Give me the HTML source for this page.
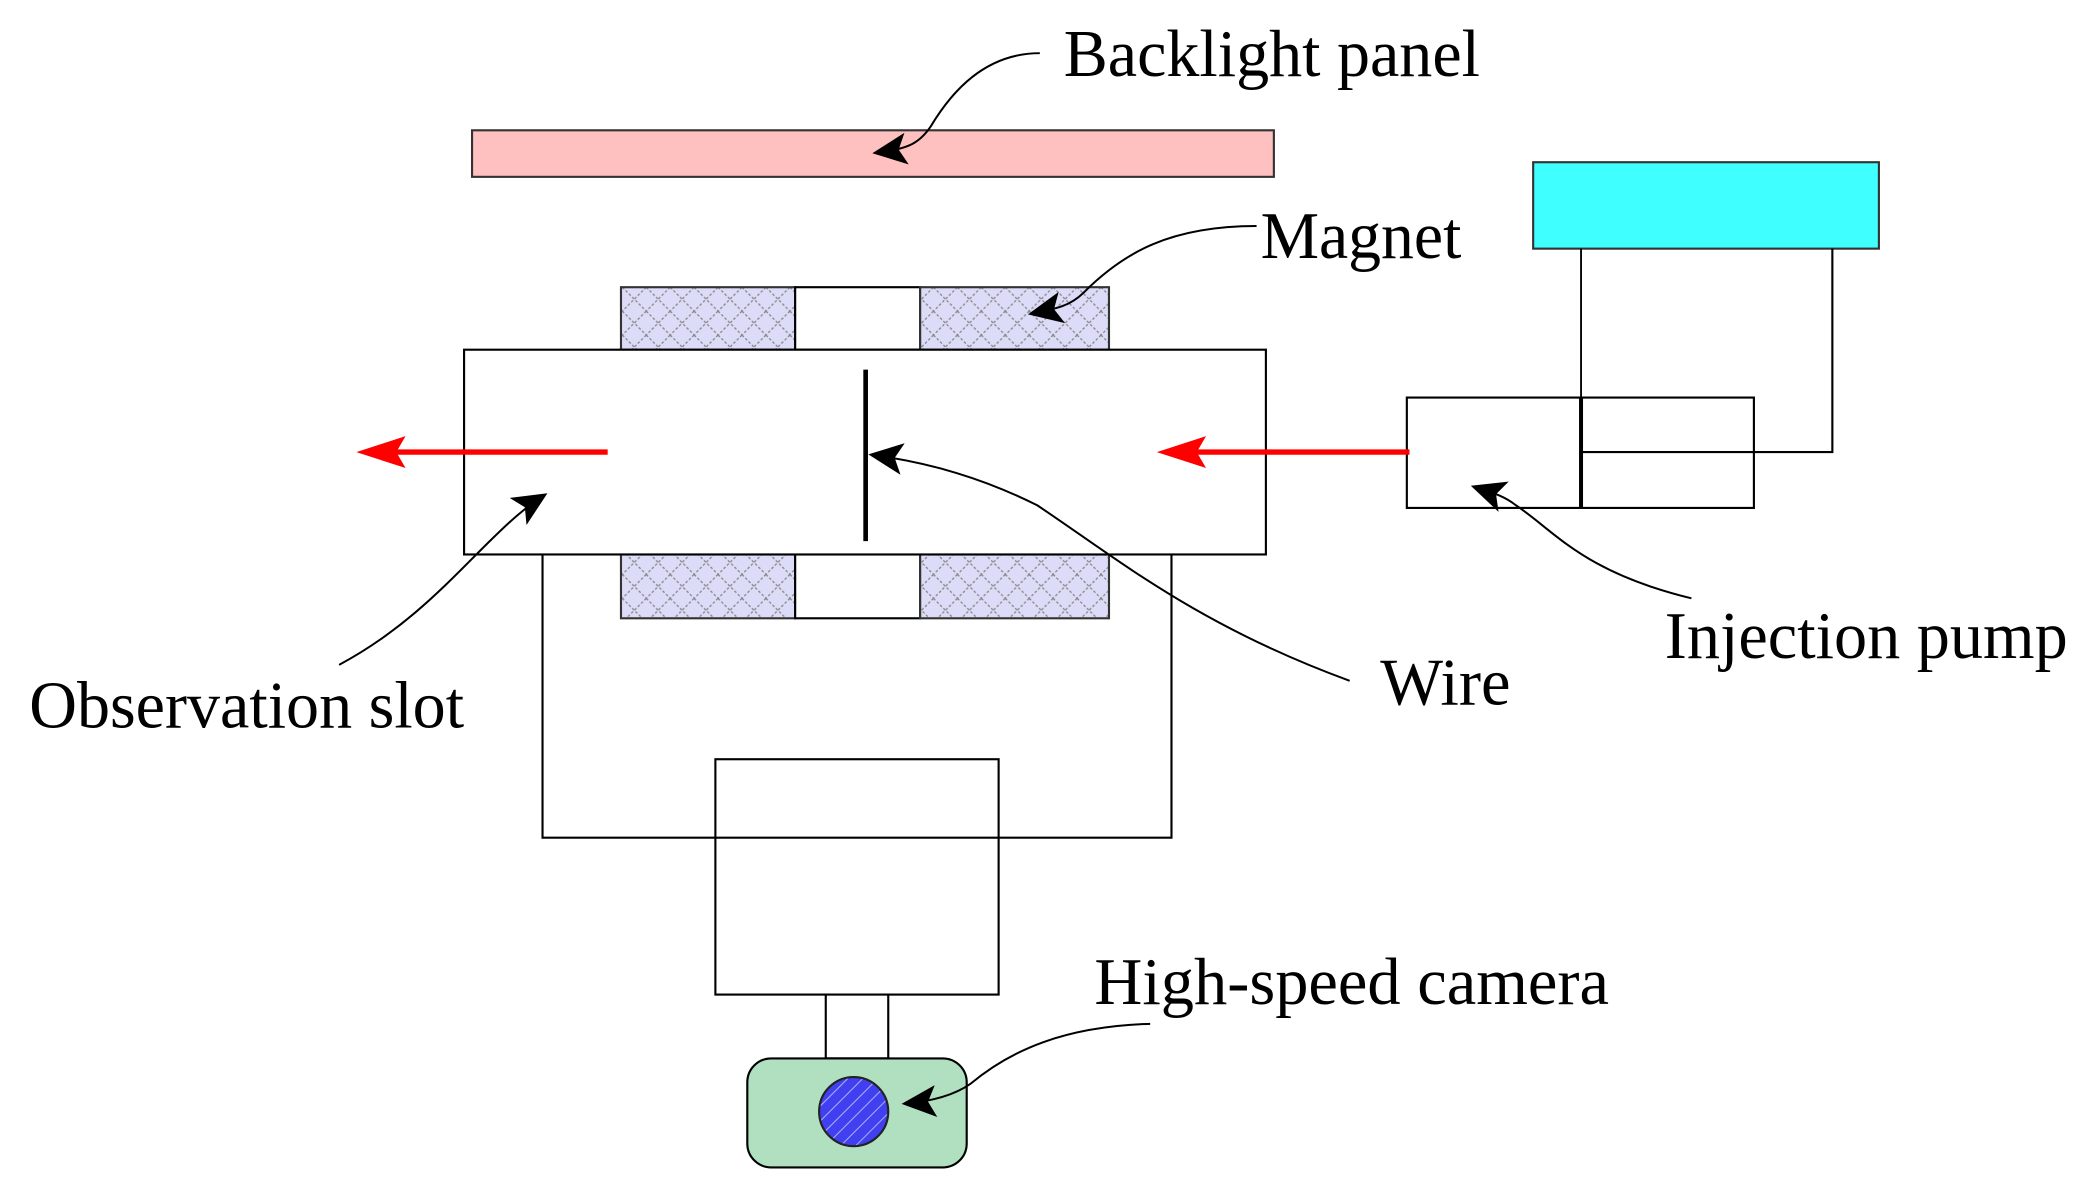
<!DOCTYPE html>
<html><head><meta charset="utf-8"><style>
html,body{margin:0;padding:0;background:#fff;}
svg{display:block;}
text{font-family:"Liberation Serif",serif;font-size:50px;fill:#000;}
</style></head><body>
<svg width="2085" height="1202" viewBox="0 0 1568 904" preserveAspectRatio="none" xmlns="http://www.w3.org/2000/svg">
<defs>
<pattern id="hx" width="18" height="18" patternUnits="userSpaceOnUse">
<rect width="18" height="18" fill="#dcdcf8"/>
<path d="M0 0L18 18M18 0L0 18" stroke="#888" stroke-width="1" stroke-dasharray="2,1.5"/>
</pattern>
<pattern id="lh" width="8" height="8" patternUnits="userSpaceOnUse" patternTransform="rotate(-45)">
<rect width="8" height="8" fill="#4040f0"/>
<line x1="0" y1="0" x2="8" y2="0" stroke="#b0b0ff" stroke-width="1.5"/>
</pattern>
<marker id="ar2" markerWidth="26" markerHeight="24" refX="24" refY="12" orient="auto" markerUnits="userSpaceOnUse" viewBox="0 0 26 24">
<path d="M0 0L26 12L0 24L6 12z" fill="#000"/>
</marker>
</defs>
<g stroke="#000" stroke-width="1.6" fill="none">
<rect x="355" y="98" width="603" height="35" fill="#ffc0c0" stroke="#333"/>
<rect x="1153" y="122" width="260" height="65" fill="#40ffff" stroke="#333"/>
<rect x="467" y="216" width="131" height="47" fill="url(#hx)" stroke="#333"/>
<rect x="598" y="216" width="94" height="47" fill="#fff"/>
<rect x="692" y="216" width="142" height="47" fill="url(#hx)" stroke="#333"/>
<rect x="467" y="417" width="131" height="48" fill="url(#hx)" stroke="#333"/>
<rect x="598" y="417" width="94" height="48" fill="#fff"/>
<rect x="692" y="417" width="142" height="48" fill="url(#hx)" stroke="#333"/>
<rect x="349" y="263" width="603" height="154" fill="#fff"/>
<line x1="651" y1="278" x2="651" y2="407" stroke-width="3.5"/>
<rect x="538" y="571" width="213" height="177" fill="#fff"/>
<polyline points="408,417 408,630 881,630 881,417"/>
<rect x="621" y="748" width="47" height="48" fill="#fff"/>
<rect x="562" y="796" width="165" height="82" rx="18" fill="#b0e0c0"/>
<ellipse cx="642" cy="836" rx="26" ry="26" fill="url(#lh)" stroke="#222"/>
<rect x="1058" y="299" width="261" height="83" fill="#fff"/>
<line x1="1189" y1="187" x2="1189" y2="382" stroke-width="1.4"/>
<line x1="1189" y1="299" x2="1189" y2="382" stroke-width="3"/>
<polyline points="1189,340 1378,340 1378,187"/>
</g>
<g stroke="#ff0000" stroke-width="4" fill="#ff0000">
<line x1="457" y1="340" x2="295" y2="340"/>
<path d="M268 340L305 328L298 340L305 352z" stroke="none"/>
<line x1="1060" y1="340" x2="898" y2="340"/>
<path d="M870 340L907 328L900 340L907 352z" stroke="none"/>
</g>
<g stroke="#000" stroke-width="1.5" fill="none">
<path d="M782 40C740 40 715 70 700 95C690 110 680 112 658 115" marker-end="url(#ar2)"/>
<path d="M945 170C880 170 845 190 815 220C805 230 795 232 775 236" marker-end="url(#ar2)"/>
<path d="M255 500C330 460 365 400 410 372" marker-end="url(#ar2)"/>
<path d="M1015 512C900 470 840 420 780 380C740 360 700 348 655 342" marker-end="url(#ar2)"/>
<path d="M1272 450C1190 430 1170 400 1140 380C1130 372 1120 370 1108 366" marker-end="url(#ar2)"/>
<path d="M865 770C800 772 760 790 730 815C720 822 705 828 680 830" marker-end="url(#ar2)"/>
</g>
<text x="800" y="57" textLength="313" lengthAdjust="spacingAndGlyphs">Backlight panel</text>
<text x="948" y="194" textLength="151" lengthAdjust="spacingAndGlyphs">Magnet</text>
<text x="22" y="547" textLength="327" lengthAdjust="spacingAndGlyphs">Observation slot</text>
<text x="1038" y="530" textLength="98" lengthAdjust="spacingAndGlyphs">Wire</text>
<text x="1252" y="495" textLength="303" lengthAdjust="spacingAndGlyphs">Injection pump</text>
<text x="823" y="755" textLength="387" lengthAdjust="spacingAndGlyphs">High-speed camera</text>
</svg>
</body></html>
